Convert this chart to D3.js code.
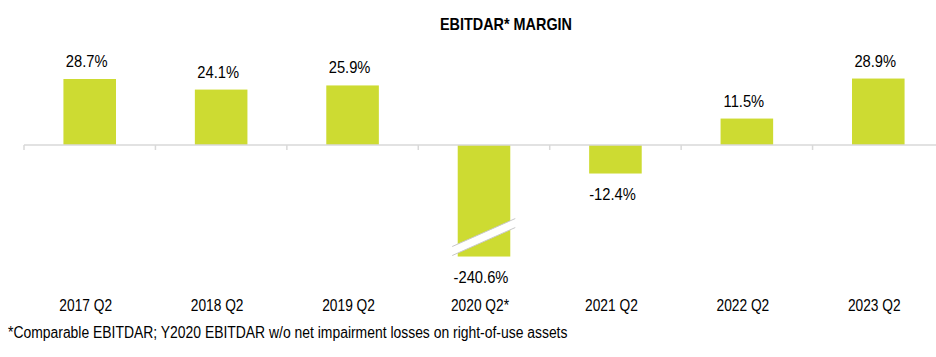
<!DOCTYPE html>
<html>
<head>
<meta charset="utf-8">
<script src="https://cdn.jsdelivr.net/npm/d3@7"></script>
<style>
  html, body { margin: 0; padding: 0; background: #fff; }
  svg { display: block; }
  text { font-family: "Liberation Sans", Arial, sans-serif; fill: #000; }
</style>
</head>
<body>
<svg id="chart" width="936" height="357"></svg>
<script>
const categories = ["2017 Q2", "2018 Q2", "2019 Q2", "2020 Q2*", "2021 Q2", "2022 Q2", "2023 Q2"];
const values = [28.7, 24.1, 25.9, -240.6, -12.4, 11.5, 28.9];
const labels = ["28.7%", "24.1%", "25.9%", "-240.6%", "-12.4%", "11.5%", "28.9%"];
// the 2020 bar is drawn with an axis break at this visual value
const breakValue = -48.5;
const title = "EBITDAR* MARGIN";
const footnote = "*Comparable EBITDAR; Y2020 EBITDAR  w/o net impairment losses on right-of-use assets";

const svg = d3.select("#chart");
const W = 936, H = 357;
const barColor = "#CDDB32";

const x = d3.scaleBand().domain(categories).range([24, 944]).paddingInner(0.6).paddingOuter(0.3);
const y = d3.scaleLinear().domain([0, 28.7]).range([145, 79]);

// condensed text helper (narrow Arial look)
function place(sel, fx, fy, sx) {
  return sel.attr("transform", (d, i) => `translate(${fx(d, i)},${fy(d, i)}) scale(${sx},1)`);
}

// title
place(svg.append("text").datum(0), () => 506, () => 30, 0.9)
  .attr("text-anchor", "middle")
  .style("font-weight", "bold").style("font-size", "16px").text(title);

const shown = v => Math.max(v, breakValue);

// bars
svg.append("g").selectAll("rect").data(values).join("rect")
  .attr("x", (d, i) => x(categories[i]))
  .attr("width", x.bandwidth())
  .attr("y", d => y(Math.max(0, shown(d))))
  .attr("height", d => Math.abs(y(shown(d)) - y(0)))
  .attr("fill", barColor);

// axis line with ticks at band boundaries
const step = x.step();
const axisG = svg.append("g");
axisG.append("line").attr("x1", 24).attr("x2", W).attr("y1", y(0)).attr("y2", y(0))
  .attr("stroke", "#d9d9d9").attr("stroke-width", 1.5);
const bounds = d3.range(categories.length + 1).map(i => 24 + i * step);
axisG.selectAll("line.tick").data(bounds).join("line").attr("class", "tick")
  .attr("x1", d => d).attr("x2", d => d).attr("y1", y(0)).attr("y2", y(0) + 5)
  .attr("stroke", "#d9d9d9").attr("stroke-width", 1.5);

// break marks on truncated bars
values.forEach((v, i) => {
  if (v < breakValue) {
    const bx = x(categories[i]), bw = x.bandwidth();
    const yb = y(breakValue);
    const x1 = bx - 5.5, x2 = bx + bw + 5;
    const pts = [[x1, yb - 10], [x2, yb - 38], [x2, yb - 29], [x1, yb - 1]];
    svg.append("polygon").attr("points", pts.map(p => p.join(",")).join(" "))
      .attr("fill", "#fff");
    svg.append("line").attr("x1", x1).attr("y1", yb - 10).attr("x2", x2).attr("y2", yb - 38)
      .attr("stroke", "#c8c8c8").attr("stroke-width", 1);
    svg.append("line").attr("x1", x1).attr("y1", yb - 1).attr("x2", x2).attr("y2", yb - 29)
      .attr("stroke", "#c8c8c8").attr("stroke-width", 1);
  }
});

// value labels
place(svg.append("g").selectAll("text").data(values).join("text"),
  (d, i) => x(categories[i]) + x.bandwidth() / 2 - 3,
  d => d >= 0 ? y(d) - 12 : y(shown(d)) + 26, 0.92)
  .attr("text-anchor", "middle").style("font-size", "16px")
  .text((d, i) => labels[i]);

// category labels
place(svg.append("g").selectAll("text").data(categories).join("text"),
  d => x(d) + x.bandwidth() / 2 - 4, () => 311, 0.86)
  .attr("text-anchor", "middle").style("font-size", "16px")
  .text(d => d);

// footnote
place(svg.append("text").datum(0), () => 8, () => 338, 0.87)
  .style("font-size", "16px").text(footnote);
</script>
</body>
</html>
